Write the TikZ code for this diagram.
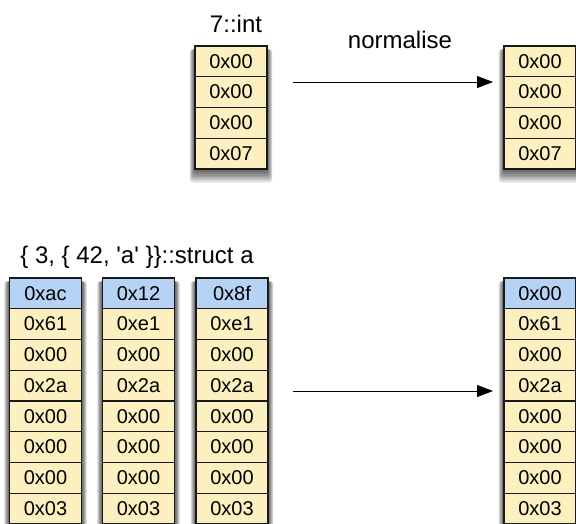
\documentclass[tikz,border=0pt]{standalone}
\usepackage{fontspec}
\setmainfont{Liberation Sans}
\usetikzlibrary{arrows.meta,backgrounds}

\definecolor{bytefill}{RGB}{253,240,192}
\definecolor{tagfill}{RGB}{182,210,245}
\definecolor{bytedraw}{RGB}{25,25,25}

\tikzset{
  byte/.style={draw=bytedraw, line width=1.2pt, fill=bytefill, minimum width=72pt,
    minimum height=30.75pt, inner sep=0pt, outer sep=0pt,
    font=\fontsize{20}{24}\selectfont},
  tagbyte/.style={byte, fill=tagfill},
  caption/.style={anchor=base, inner sep=0pt, font=\fontsize{24}{28}\selectfont},
  normarrow/.style={line width=1pt, -{Triangle[length=16pt,width=12pt]}, shorten >=11pt}
}

% soft shadow under a column, from its top cell to its bottom cell
\newcommand{\colshadow}[2]{%
  \foreach \s in {1,...,12}
    \fill[black, opacity=0.075, rounded corners=3pt]
      ([xshift=-\s*0.45pt, yshift=-3pt]#1.north west) rectangle
      ([xshift=\s*0.45pt, yshift=-\s*1.15pt]#2.south east);
}

\begin{document}
\begin{tikzpicture}[x=1pt, y=-1pt]

\useasboundingbox (0,0) rectangle (576,523);

%% int
\node[caption] (intlabel) at (236, 32) {7::int};
\node[byte] (in1) at (231, 61.4) {0x00};
\node[byte] (in2) at (231, 92.1) {0x00};
\node[byte] (in3) at (231, 122.9) {0x00};
\node[byte] (in4) at (231, 153.6) {0x07};

\node[byte] (out1) at (540, 61.4) {0x00};
\node[byte] (out2) at (540, 92.1) {0x00};
\node[byte] (out3) at (540, 122.9) {0x00};
\node[byte] (out4) at (540, 153.6) {0x07};

\node[caption] (normlabel) at (400, 48) {normalise};
\coordinate (intstart) at (293, 82);
\draw[normarrow] (intstart) -- (intstart -| out1.west);

%% struct a
\node[caption] (structlabel) at (137, 263)
  {\{ 3, \{ 42, \textquotesingle a\textquotesingle\ \}\}::struct a};

%% column 1
\node[tagbyte] (a1) at (45.5, 293.4) {0xac};
\node[byte] (a2) at (45.5, 324.1) {0x61};
\node[byte] (a3) at (45.5, 354.9) {0x00};
\node[byte] (a4) at (45.5, 385.6) {0x2a};
\node[byte] (a5) at (45.5, 416.4) {0x00};
\node[byte] (a6) at (45.5, 447.1) {0x00};
\node[byte] (a7) at (45.5, 477.9) {0x00};
\node[byte] (a8) at (45.5, 508.6) {0x03};

%% column 2
\node[tagbyte] (b1) at (138.5, 293.4) {0x12};
\node[byte] (b2) at (138.5, 324.1) {0xe1};
\node[byte] (b3) at (138.5, 354.9) {0x00};
\node[byte] (b4) at (138.5, 385.6) {0x2a};
\node[byte] (b5) at (138.5, 416.4) {0x00};
\node[byte] (b6) at (138.5, 447.1) {0x00};
\node[byte] (b7) at (138.5, 477.9) {0x00};
\node[byte] (b8) at (138.5, 508.6) {0x03};

%% column 3
\node[tagbyte] (c1) at (232, 293.4) {0x8f};
\node[byte] (c2) at (232, 324.1) {0xe1};
\node[byte] (c3) at (232, 354.9) {0x00};
\node[byte] (c4) at (232, 385.6) {0x2a};
\node[byte] (c5) at (232, 416.4) {0x00};
\node[byte] (c6) at (232, 447.1) {0x00};
\node[byte] (c7) at (232, 477.9) {0x00};
\node[byte] (c8) at (232, 508.6) {0x03};

%% normalised
\node[tagbyte] (n1) at (540, 293.4) {0x00};
\node[byte] (n2) at (540, 324.1) {0x61};
\node[byte] (n3) at (540, 354.9) {0x00};
\node[byte] (n4) at (540, 385.6) {0x2a};
\node[byte] (n5) at (540, 416.4) {0x00};
\node[byte] (n6) at (540, 447.1) {0x00};
\node[byte] (n7) at (540, 477.9) {0x00};
\node[byte] (n8) at (540, 508.6) {0x03};

\coordinate (structstart) at (293, 391);
\draw[normarrow] (structstart) -- (structstart -| n1.west);

%% shadows
\begin{scope}[on background layer]
  \colshadow{in1}{in4}
  \colshadow{out1}{out4}
  \colshadow{a1}{a8}
  \colshadow{b1}{b8}
  \colshadow{c1}{c8}
  \colshadow{n1}{n8}
\end{scope}

\end{tikzpicture}
\end{document}
